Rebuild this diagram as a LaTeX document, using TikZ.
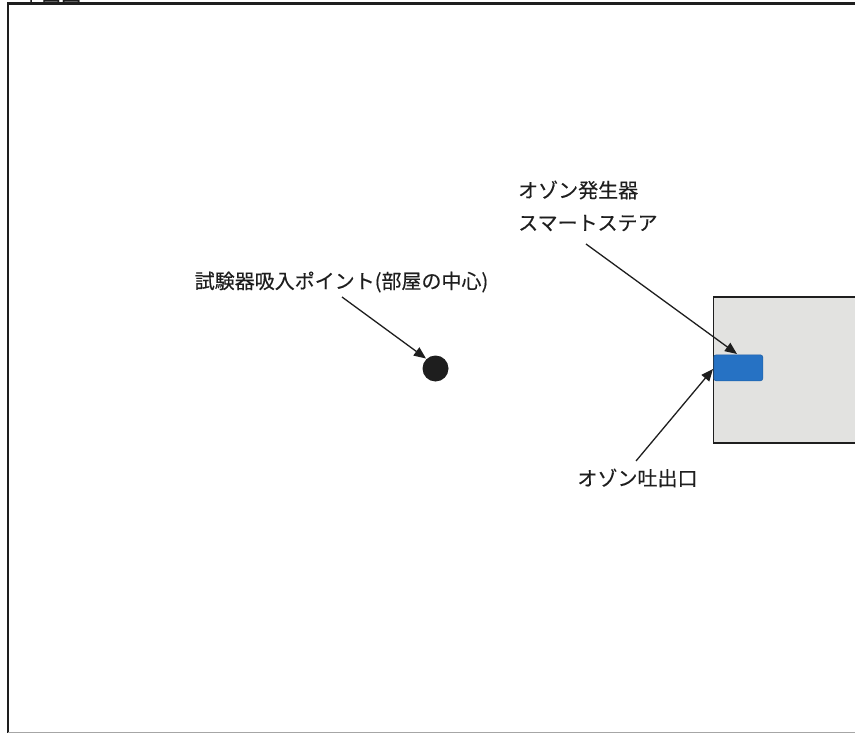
\documentclass[tikz,border=0pt]{standalone}
\usepackage{fontspec}
\setmainfont[FakeBold=0.25]{Noto Sans CJK JP}
\usetikzlibrary{arrows.meta}
\definecolor{panelgray}{RGB}{226,226,224}
\definecolor{genblue}{RGB}{38,114,196}
\definecolor{inkdark}{RGB}{30,30,30}
\tikzset{
  lbl/.style={inner sep=0pt,font=\fontsize{20pt}{24pt}\selectfont,text=inkdark,anchor=center},
  ptr/.style={draw=inkdark,line width=1.3pt,-{Triangle[length=12pt,width=10pt]}},
  frameline/.style={draw=inkdark,line width=2.4pt}
}
\begin{document}
\begin{tikzpicture}[x=1pt,y=-1pt]
\useasboundingbox (0,0) rectangle (855,733);
\clip (0,0) rectangle (855,733);
\fill[white] (0,0) rectangle (855,733);
\node[lbl,anchor=base west] (title) at (21,1) {平面図};
\path[frameline] (8,760) -- (8,3.5) -- (870,3.5);
\draw[draw=gray!70,line width=1.2pt] (8,732.5) -- (870,732.5);
\node[draw=inkdark,line width=1.9pt,fill=panelgray,minimum width=170pt,minimum height=146pt,inner sep=0pt,anchor=north west] (panel) at (712.5,296) {};
\node[fill=genblue,draw=genblue!85!black,line width=.6pt,rounded corners=2.5pt,minimum width=49pt,minimum height=26pt,inner sep=0pt,anchor=north west] (gen) at (713.5,354.5) {};
\node[circle,fill=inkdark,minimum size=26pt,inner sep=0pt] (point) at (435.5,368.5) {};
\node[lbl] (l1) at (341.5,282) {試験器吸入ポイント(部屋の中心)};
\node[lbl,anchor=west] (l2) at (518,190) {オゾン発生器};
\node[lbl,anchor=west] (l3) at (518,223) {スマートステア};
\node[lbl] (l4) at (637.5,478) {オゾン吐出口};
\coordinate (s1) at (342,297);
\coordinate (s2) at (586,244);
\coordinate (s3) at (636,461);
\coordinate (e1) at (426,358.5);
\coordinate (e2) at (737,354);
\coordinate (e3) at (713,369);
\draw[ptr] (s1) -- (e1);
\draw[ptr] (s2) -- (e2);
\draw[ptr] (s3) -- (e3);
\end{tikzpicture}
\end{document}
